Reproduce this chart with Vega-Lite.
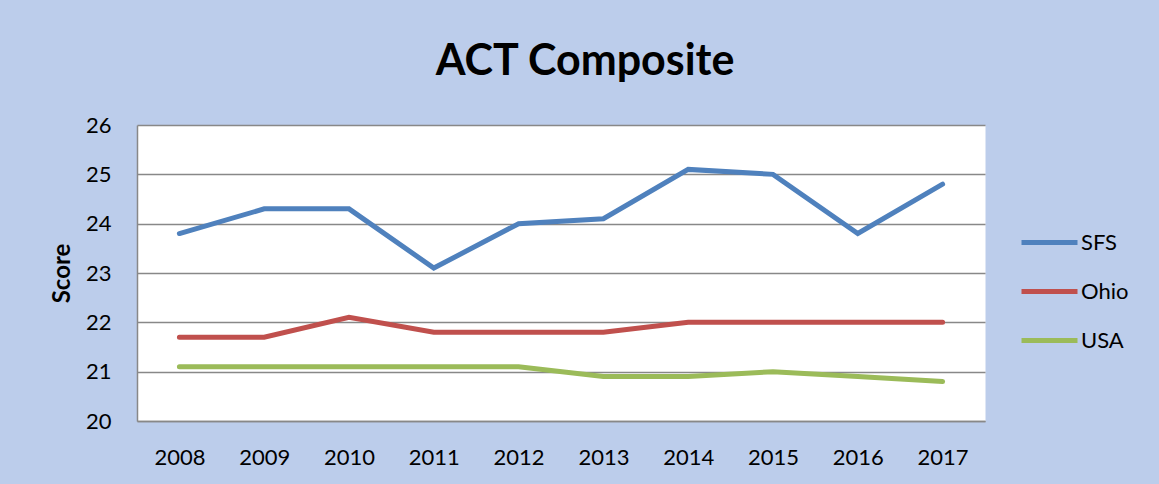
{
  "$schema": "https://vega.github.io/schema/vega-lite/v6.json",
  "width": 848,
  "height": 296,
  "autosize": {"type": "none"},
  "padding": {"left": 137, "top": 125, "right": 174, "bottom": 63},
  "background": "#bccdeb",
  "title": {
    "text": "ACT Composite",
    "fontSize": 43,
    "font": "Lato",
    "fontWeight": "bold",
    "color": "#000000",
    "anchor": "middle",
    "frame": "group",
    "dx": 24,
    "offset": 30
  },
  "config": {
    "font": "Lato",
    "view": {"fill": "#ffffff", "stroke": "transparent"}
  },
  "data": {
    "values": [
      {"year": "2008", "series": "SFS", "score": 23.8},
      {"year": "2009", "series": "SFS", "score": 24.3},
      {"year": "2010", "series": "SFS", "score": 24.3},
      {"year": "2011", "series": "SFS", "score": 23.1},
      {"year": "2012", "series": "SFS", "score": 24.0},
      {"year": "2013", "series": "SFS", "score": 24.1},
      {"year": "2014", "series": "SFS", "score": 25.1},
      {"year": "2015", "series": "SFS", "score": 25.0},
      {"year": "2016", "series": "SFS", "score": 23.8},
      {"year": "2017", "series": "SFS", "score": 24.8},
      {"year": "2008", "series": "Ohio", "score": 21.7},
      {"year": "2009", "series": "Ohio", "score": 21.7},
      {"year": "2010", "series": "Ohio", "score": 22.1},
      {"year": "2011", "series": "Ohio", "score": 21.8},
      {"year": "2012", "series": "Ohio", "score": 21.8},
      {"year": "2013", "series": "Ohio", "score": 21.8},
      {"year": "2014", "series": "Ohio", "score": 22.0},
      {"year": "2015", "series": "Ohio", "score": 22.0},
      {"year": "2016", "series": "Ohio", "score": 22.0},
      {"year": "2017", "series": "Ohio", "score": 22.0},
      {"year": "2008", "series": "USA", "score": 21.1},
      {"year": "2009", "series": "USA", "score": 21.1},
      {"year": "2010", "series": "USA", "score": 21.1},
      {"year": "2011", "series": "USA", "score": 21.1},
      {"year": "2012", "series": "USA", "score": 21.1},
      {"year": "2013", "series": "USA", "score": 20.9},
      {"year": "2014", "series": "USA", "score": 20.9},
      {"year": "2015", "series": "USA", "score": 21.0},
      {"year": "2016", "series": "USA", "score": 20.9},
      {"year": "2017", "series": "USA", "score": 20.8}
    ]
  },
  "mark": {"type": "line", "strokeWidth": 5, "strokeCap": "round", "strokeJoin": "miter"},
  "encoding": {
    "x": {
      "field": "year",
      "type": "ordinal",
      "scale": {"type": "point", "padding": 0.5},
      "axis": {
        "title": null,
        "labelAngle": 0,
        "labelFontSize": 22,
        "labelColor": "#000000",
        "labelPadding": 26,
        "ticks": false,
        "tickSize": 0,
        "domain": true,
        "domainColor": "#888888",
        "domainWidth": 1.5,
        "grid": false
      }
    },
    "y": {
      "field": "score",
      "type": "quantitative",
      "scale": {"domain": [20, 26], "nice": false, "zero": false},
      "axis": {
        "title": "Score",
        "titleFontSize": 24,
        "titleFontWeight": "bold",
        "titleColor": "#000000",
        "titlePadding": 11,
        "labelFontSize": 22,
        "labelColor": "#000000",
        "labelPadding": 26,
        "ticks": false,
        "tickSize": 0,
        "values": [20, 21, 22, 23, 24, 25, 26],
        "grid": true,
        "gridColor": "#888888",
        "gridWidth": 1.5,
        "gridOpacity": 1,
        "domain": true,
        "domainColor": "#888888",
        "domainWidth": 1.5
      }
    },
    "color": {
      "field": "series",
      "type": "nominal",
      "scale": {"domain": ["SFS", "Ohio", "USA"], "range": ["#4f81bd", "#c0504d", "#9bbb59"]},
      "legend": {
        "title": null,
        "orient": "none",
        "legendX": 882,
        "legendY": 87,
        "symbolType": "stroke",
        "symbolSize": 3136,
        "symbolStrokeWidth": 5,
        "labelFontSize": 22,
        "labelColor": "#000000",
        "labelOffset": 1,
        "rowPadding": 7,
        "padding": 0
      }
    }
  }
}
